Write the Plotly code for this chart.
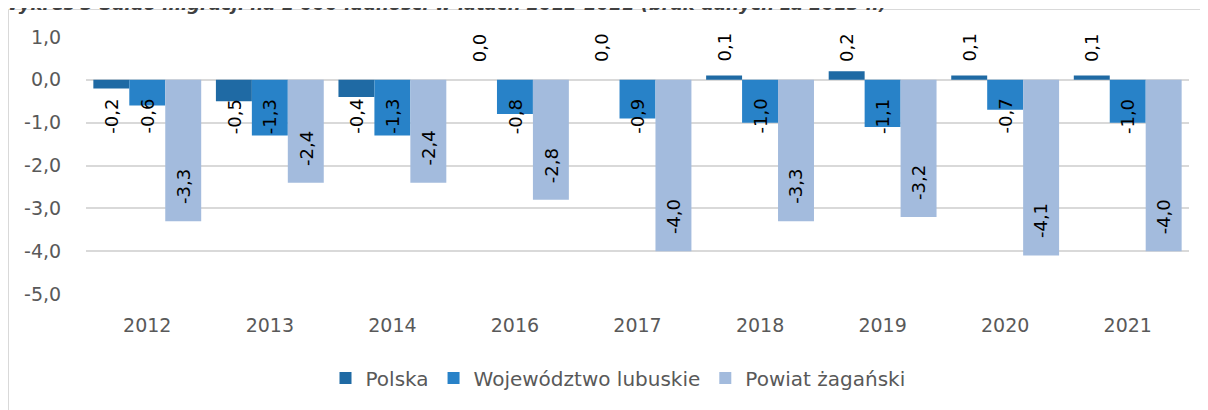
import plotly.graph_objects as go

years = ["2012", "2013", "2014", "2016", "2017", "2018", "2019", "2020", "2021"]
polska = [-0.2, -0.5, -0.4, 0.0, 0.0, 0.1, 0.2, 0.1, 0.1]
lubuskie = [-0.6, -1.3, -1.3, -0.8, -0.9, -1.0, -1.1, -0.7, -1.0]
zaganski = [-3.3, -2.4, -2.4, -2.8, -4.0, -3.3, -3.2, -4.1, -4.0]
series_names = ["Polska", "Województwo lubuskie", "Powiat żagański"]
colors = ["#1F6AA4", "#2882C8", "#A3BBDD"]
y_ticks = [1, 0, -1, -2, -3, -4, -5]
title_text = "Wykres 3 Saldo migracji na 1 000 ludności w latach 2012-2021 (brak danych za 2015 r.)"

# the page body has an 8 px margin, so figure coordinates = window - 8
OFF = 8
W, H = 1208, 410
ML, MT = 86 - OFF, 37 - OFF
MR = W - (1189 - OFF)
MB = H - (294 - OFF)
PW, PH = W - ML - MR, H - MT - MB
BARGAP = 0.12
FONT = "DejaVu Sans"


def fmt(v):
    return f"{v:.1f}".replace(".", ",")


def px_x(xw):
    """window x pixel -> paper x"""
    return (xw - OFF - ML) / PW


def px_y(yw):
    """window y pixel -> paper y"""
    return (MT + PH - (yw - OFF)) / PH


fig = go.Figure()
all_series = [polska, lubuskie, zaganski]
for name, vals, col in zip(series_names, all_series, colors):
    fig.add_trace(go.Bar(
        x=years, y=vals, name=name,
        marker=dict(color=col, line=dict(width=0)),
    ))

annotations = []
group_w = 1 - BARGAP
for k, vals in enumerate(all_series):
    for i, v in enumerate(vals):
        xpos = i + (k - 1) * group_w / 3
        if k < 2:
            if v >= 0:
                ann = dict(y=0, yanchor="bottom", yshift=16)
            else:
                ann = dict(y=0, yanchor="top", yshift=-17)
        else:
            ann = dict(y=v, yanchor="bottom", yshift=15)
        annotations.append(dict(
            x=xpos, xref="x", yref="y", text=fmt(v), showarrow=False,
            textangle=-90, xanchor="center",
            font=dict(family=FONT, size=18, color="#000000"), **ann))

# cropped title at the very top
annotations.append(dict(
    x=px_x(-3), xref="paper", xanchor="left",
    y=px_y(16), yref="paper", yanchor="bottom",
    text=title_text, showarrow=False,
    font=dict(family=FONT, size=18, color="#404040", style="italic", weight="bold")))

shapes = [
    dict(type="line", xref="paper", yref="paper",
         x0=px_x(8.5), x1=px_x(8.5), y0=px_y(9.5), y1=px_y(H + 20),
         line=dict(color="#D9D9D9", width=1)),
    dict(type="line", xref="paper", yref="paper",
         x0=px_x(8.5), x1=px_x(W + 20), y0=px_y(9.5), y1=px_y(9.5),
         line=dict(color="#D9D9D9", width=1)),
]

fig.update_layout(
    width=W, height=H,
    margin=dict(l=ML, r=MR, t=MT, b=MB, pad=0),
    paper_bgcolor="white", plot_bgcolor="white",
    barmode="group", bargap=BARGAP, bargroupgap=0,
    font=dict(family=FONT, size=19, color="#595959"),
    showlegend=True,
    legend=dict(orientation="h", x=px_x(618), xanchor="center",
                y=px_y(378), yanchor="middle",
                font=dict(family=FONT, size=20, color="#595959"),
                traceorder="normal"),
    annotations=annotations,
    shapes=shapes,
)
fig.update_xaxes(type="category", showgrid=False, showline=False, zeroline=False,
                 ticks="outside", ticklen=14, tickcolor="rgba(0,0,0,0)",
                 tickfont=dict(family=FONT, size=19, color="#595959"))
fig.update_yaxes(range=[-5, 1], tickvals=y_ticks,
                 ticktext=[fmt(t) for t in y_ticks],
                 showgrid=True, gridcolor="#D9D9D9", gridwidth=1.5,
                 zeroline=True, zerolinecolor="#D9D9D9", zerolinewidth=1.5,
                 showline=False, ticks="outside", ticklen=20,
                 tickcolor="rgba(0,0,0,0)",
                 tickfont=dict(family=FONT, size=19, color="#595959"))

fig.write_html("out.html")
